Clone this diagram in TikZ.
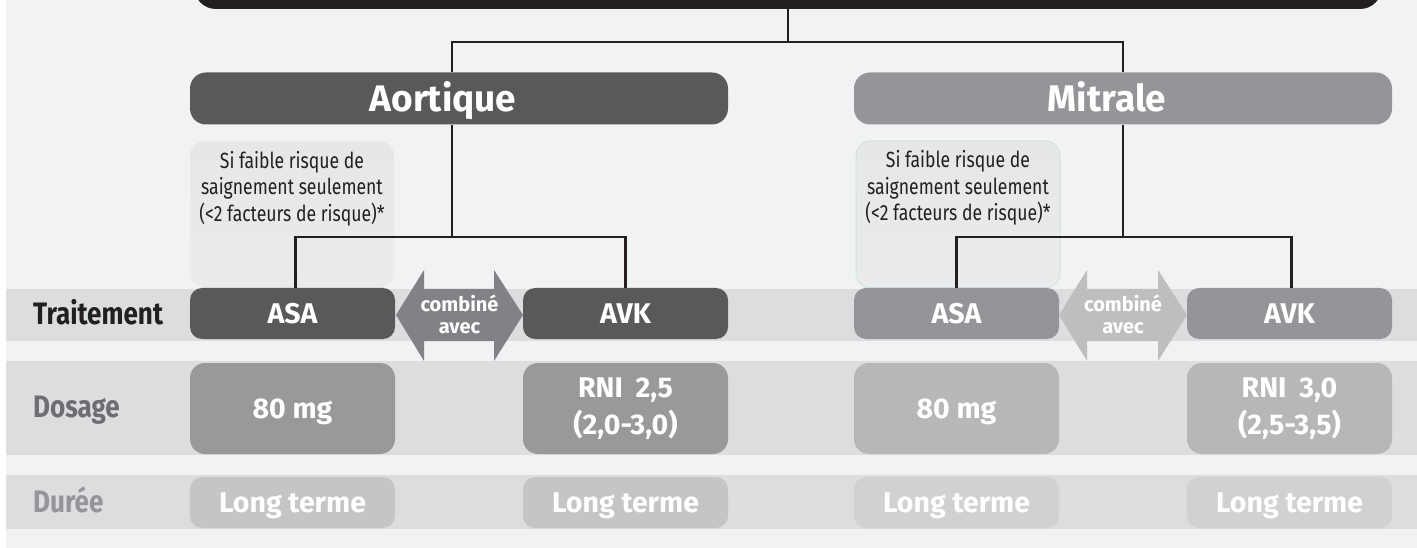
\documentclass[tikz,border=0pt]{standalone}
\usepackage{fontspec}
\setmainfont{Fira Sans}
\newfontfamily\condfont[FakeStretch=0.84]{Fira Sans}
\newfontfamily\notefont[FakeStretch=0.8]{Fira Sans}
\usetikzlibrary{positioning}

\definecolor{bggray}{HTML}{F1F2F3}
\definecolor{bandgray}{HTML}{DCDDDE}
\definecolor{ink}{HTML}{231F20}
\definecolor{darkbox}{HTML}{58595B}
\definecolor{midbox}{HTML}{939598}
\definecolor{doseA}{HTML}{98999B}
\definecolor{doseM}{HTML}{B6B7B9}
\definecolor{termA}{HTML}{C4C5C7}
\definecolor{termM}{HTML}{D0D1D3}
\definecolor{arrowA}{HTML}{808285}
\definecolor{arrowM}{HTML}{BCBEC0}
\definecolor{notetop}{HTML}{E6E7E8}
\definecolor{notebot}{HTML}{EAEBEC}
\definecolor{notedge}{HTML}{CFE4E0}
\definecolor{dosetext}{HTML}{6D6E71}

\begin{document}
\begin{tikzpicture}[x=1pt,y=-1pt,
    box/.style={rectangle,rounded corners=12pt,inner sep=0pt,text=white,
        font=\bfseries\fontsize{28.5}{37}\selectfont,minimum width=205pt},
    oneline/.style={text height=19.6pt,text depth=0pt},
    head/.style={rectangle,rounded corners=16pt,minimum width=538pt,minimum height=52pt},
    headtext/.style={inner sep=0pt,text=white,text height=25.5pt,text depth=0pt,
        font=\bfseries\fontsize{37}{37}\selectfont},
    treat/.style={box,oneline,minimum height=51pt},
    dose/.style={box,rounded corners=15pt,minimum height=91pt},
    term/.style={box,oneline,minimum height=51pt},
    note/.style={rectangle,rounded corners=15pt,minimum width=204pt,minimum height=147pt,
        top color=notetop,bottom color=notebot},
    notetext/.style={align=center,inner sep=0pt,text=ink,
        font=\notefont\fontsize{22}{26.5}\selectfont},
    rowlabel/.style={anchor=base west,inner sep=0pt,
        font=\condfont\bfseries\fontsize{31}{31}\selectfont},
    combtext/.style={align=center,inner sep=0pt,text=white,
        font=\bfseries\fontsize{20}{22}\selectfont},
    conn/.style={draw=ink,line width=2.2pt}]

    \useasboundingbox (0,0) rectangle (1417,548);
    \fill[white] (0,0) rectangle (1417,548);
    \fill[bggray] (6,0) rectangle (1417,548);

    % rows
    \fill[bandgray] (6,289) rectangle (1417,341);
    \fill[bandgray] (6,361) rectangle (1417,455);
    \fill[bandgray] (6,475) rectangle (1417,529);

    \node[rowlabel,text=ink]      (lblT) at (33,324) {Traitement};
    \node[rowlabel,text=dosetext] (lblD) at (33,417) {Dosage};
    \node[rowlabel,text=midbox]   (lblL) at (33,512) {Durée};

    % notes
    \node[note]                         (noteA) at (292,214.5) {};
    \node[note,draw=notedge,line width=1pt] (noteM) at (958,214.5) {};
    \node[notetext,below=10pt of noteA.north] (noteAtxt)
        {Si faible risque de\\saignement seulement\\(<2 facteurs de risque)*};
    \node[notetext,below=10pt of noteM.north] (noteMtxt)
        {Si faible risque de\\saignement seulement\\(<2 facteurs de risque)*};

    % header boxes
    \node[rectangle,rounded corners=22pt,fill=ink,inner sep=0pt,
        minimum width=1188pt,minimum height=80pt] (topbar) at (788,-31) {};
    \node[head,fill=darkbox] (aort) at (459,98.5)  {};
    \node[head,fill=midbox]  (mitr) at (1123,98.5) {};
    \node[headtext] (aorttxt) at ([xshift=-16pt]aort.center) {Aortique};
    \node[headtext] (mitrtxt) at ([xshift=-16pt]mitr.center) {Mitrale};

    % treatment
    \node[treat,fill=darkbox] (asaA) at (292.5,313.5)  {ASA};
    \node[treat,fill=darkbox] (avkA) at (625.5,313.5)  {AVK};
    \node[treat,fill=midbox]  (asaM) at (956.5,313.5)  {ASA};
    \node[treat,fill=midbox]  (avkM) at (1289.5,313.5) {AVK};

    % dosage
    \node[dose,oneline,fill=doseA] (doseasaA) at (292.5,408.5) {80 mg};
    \node[dose,align=center,fill=doseA] (doseavkA) at (625.5,408.5)
        {RNI\hspace{0.45em}2,5\\(2,0-3,0)};
    \node[dose,oneline,fill=doseM] (doseasaM) at (956.5,408.5) {80 mg};
    \node[dose,align=center,fill=doseM] (doseavkM) at (1289.5,408.5)
        {RNI\hspace{0.45em}3,0\\(2,5-3,5)};

    % duration
    \node[term,fill=termA] (termasaA) at (292.5,502.5)  {Long terme};
    \node[term,fill=termA] (termavkA) at (625.5,502.5)  {Long terme};
    \node[term,fill=termM] (termasaM) at (956.5,502.5)  {Long terme};
    \node[term,fill=termM] (termavkM) at (1289.5,502.5) {Long terme};

    % connectors
    \draw[conn] (topbar.south) -- ++(0,33) coordinate (fork);
    \draw[conn] (fork) -| ([xshift=-7pt]aort.north);
    \draw[conn] (fork) -| (mitr.north);
    \draw[conn] ([xshift=-7pt]aort.south) -- ++(0,112.5) coordinate (forkA);
    \draw[conn] (forkA) -| ([xshift=3pt]asaA.north);
    \draw[conn] (forkA) -| (avkA.north);
    \draw[conn] (mitr.south) -- ++(0,112.5) coordinate (forkM);
    \draw[conn] (forkM) -| (asaM.north);
    \draw[conn] (forkM) -| ([xshift=2pt]avkM.north);

    % combined arrows
    \foreach \l/\r/\c in {396/523/arrowA,1059/1187/arrowM}
        \fill[\c] (\l,315) -- (\l+28,270) -- (\l+28,289) -- (\r-29,289) -- (\r-29,270)
            -- (\r,315) -- (\r-29,361) -- (\r-29,341) -- (\l+28,341) -- (\l+28,361) -- cycle;
    \node[combtext] (combA) at (459.5,314.5) {combiné\\avec};
    \node[combtext] (combM) at (1123,314.5)  {combiné\\avec};
\end{tikzpicture}
\end{document}
